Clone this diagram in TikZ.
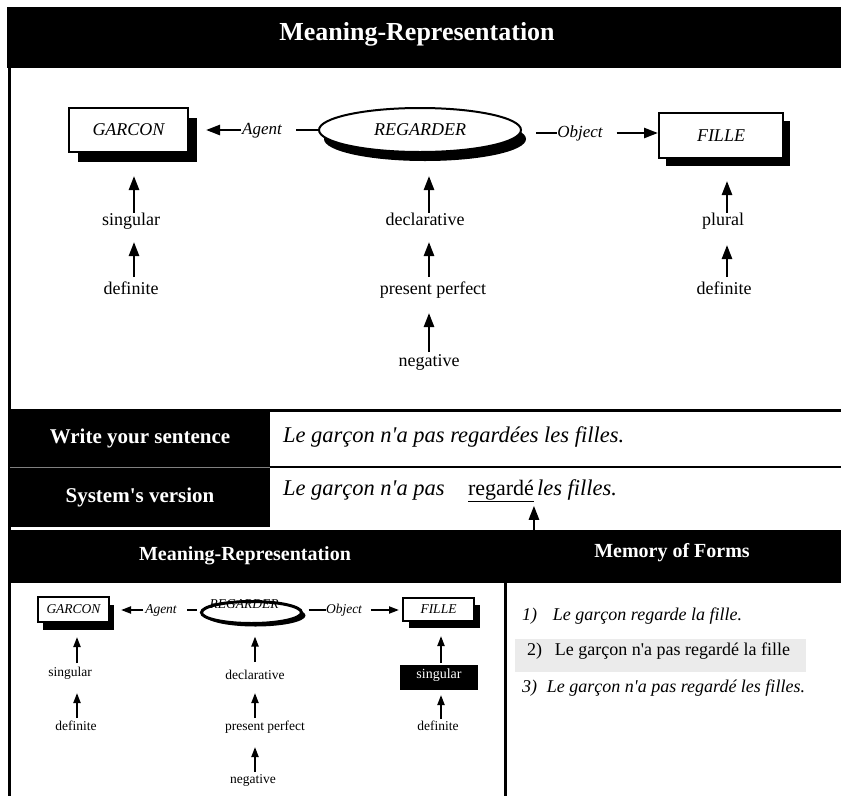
\documentclass[tikz,border=0pt]{standalone}
\usepackage{fontspec}
\setmainfont{Liberation Serif}
\newfontfamily\nolig{Liberation Serif}
\usetikzlibrary{arrows.meta,shapes.geometric,shadows}
\newcommand{\myfs}[1]{\fontsize{#1pt}{#1pt}\selectfont}
\newcommand{\ap}{{\nolig'}}
\begin{document}
\begin{tikzpicture}[x=1pt,y=-1pt,
  every node/.style={inner sep=0pt,outer sep=0pt},
  bshadow/.style 2 args={drop shadow={shadow xshift=#1,shadow yshift=#2,fill=black,opacity=1}},
  namebox/.style={draw=black,line width=2.5pt,fill=white,font=\itshape\myfs{18}},
  nameell/.style={ellipse,draw=black,line width=2pt,fill=white,font=\itshape\myfs{18}},
  rel/.style={font=\itshape\myfs{17},text height=12pt,text depth=4pt},
  feat/.style={font=\myfs{18},text height=13pt,text depth=4pt},
  arr/.style={line width=2.5pt,-{Triangle[length=14pt,width=10pt]}},
  rdash/.style={line width=2.5pt},
  mbox/.style={draw=black,line width=2.5pt,fill=white,font=\itshape\myfs{13.5}},
  mrel/.style={font=\itshape\myfs{13.5},text height=10pt,text depth=3pt},
  mfeat/.style={font=\myfs{13.5},text height=10pt,text depth=3pt},
  marr/.style={line width=2pt,-{Triangle[length=10pt,width=7pt]}},
  cell/.style={fill=black,text=white,font=\bfseries\myfs{21},minimum width=260pt,minimum height=57pt},
  rowtxt/.style={font=\itshape\myfs{22.5}},
  bandtxt/.style={text=white,font=\bfseries\myfs{20}},
  formtxt/.style={font=\itshape\myfs{18}}
]
\useasboundingbox (0,0) rectangle (841,796);

% header
\fill[black] (7,7) rectangle (841,68);
\node[text=white,font=\bfseries\myfs{26},anchor=base] (title) at (417,40) {Meaning-Representation};

% outer left border
\draw[line width=2.5pt] (9.5,68) -- (9.5,796);

% ---------- top diagram ----------
\node[namebox,minimum width=119pt,minimum height=44pt,bshadow={9pt}{-10pt}] (garcon) at (128.5,130) {GARCON};
\node[nameell,minimum width=202pt,minimum height=44pt,bshadow={5pt}{-9pt}] (regarder) at (420,130) {REGARDER};
\node[namebox,minimum width=124pt,minimum height=45pt,bshadow={7pt}{-8pt}] (fille) at (721,135.5) {FILLE};

\node[rel] (agent) at (262,130) {Agent};
\node[rel] (object) at (580,133) {Object};
\draw[arr,shorten >=18pt,shorten <=1pt] (agent.west) -- (agent.west -| garcon.east);
\draw[rdash,shorten <=1pt,shorten >=14pt] (agent.east -| regarder.west) -- (agent.east);
\draw[rdash,shorten <=15pt] (object.west -| regarder.east) -- (object.west);
\draw[arr,shorten <=14pt,shorten >=1pt] (object.east) -- (object.east -| fille.west);

\coordinate (cL) at (134,0);
\coordinate (cC) at (429,0);
\coordinate (cR) at (727,0);

\node[feat] (sing1) at (131,221) {singular};
\node[feat] (def1) at (131,290) {definite};
\node[feat] (decl) at (425,221) {declarative};
\node[feat] (pp) at (433,290) {present perfect};
\node[feat] (neg) at (429,362) {negative};
\node[feat] (plural) at (723,221) {plural};
\node[feat] (def3) at (724,290) {definite};

\draw[arr,shorten >=24pt] (sing1.north -| cL) -- (garcon.south -| cL);
\draw[arr,shorten <=4.5pt,shorten >=12.5pt] (def1.north -| cL) -- (sing1.south -| cL);
\draw[arr,shorten >=24pt] (decl.north -| cC) -- (regarder.south -| cC);
\draw[arr,shorten <=4.5pt,shorten >=12.5pt] (pp.north -| cC) -- (decl.south -| cC);
\draw[arr,shorten <=1.5pt,shorten >=14.5pt] (neg.north -| cC) -- (pp.south -| cC);
\draw[arr,shorten >=23pt] (plural.north -| cR) -- (fille.south -| cR);
\draw[arr,shorten <=4.5pt,shorten >=15.5pt] (def3.north -| cR) -- (plural.south -| cR);

% ---------- rows ----------
\coordinate (redge) at (841,0);
\node[cell,anchor=north west] (wys) at (10,410) {Write your sentence};
\node[cell,minimum height=60pt,anchor=north west] (sysv) at (10,467) {System\ap s version};
\draw[line width=3pt] (wys.north west) -- (wys.north west -| redge);
\draw[line width=2.5pt] (wys.south east) -- (wys.south east -| redge);
\draw[gray,line width=1pt] (wys.south west) -- (wys.south east);

\node[rowtxt,anchor=base west] (sent) at (283,442) {Le garçon n\ap a pas regardées les filles.};
\node[rowtxt,anchor=base west] (sysa) at (283,495) {Le garçon n\ap a pas};
\node[font=\myfs{22},anchor=base west] (regarde) at (468,495) {\underline{regardé}};
\node[rowtxt,anchor=base west] (sysb) at (537,495) {les filles.};

% ---------- bottom band ----------
\node[fill=black,minimum width=831pt,minimum height=53pt,anchor=north west] (bandB) at (10,530) {};
\node[bandtxt,anchor=base] (mrtitle) at (245,560) {Meaning-Representation};
\node[bandtxt,anchor=base] (mftitle) at (672,557) {Memory of Forms};
\draw[arr,shorten >=4pt] (regarde.south east |- bandB.north) -- (regarde.south east);

\coordinate (divx) at (505,796);
\draw[line width=3pt] (bandB.south -| divx) -- (divx);

% ---------- mini diagram ----------
\node[mbox,minimum width=71pt,minimum height=25pt,bshadow={5pt}{-8pt}] (mgarcon) at (73.5,609.5) {GARCON};
\node[ellipse,draw=black,line width=3pt,fill=white,minimum width=100pt,minimum height=22pt,bshadow={4pt}{-3pt}] (mregarder) at (251.5,612.5) {};
\node[mrel] (mregtxt) at (244,605) {REGARDER};
\node[mbox,minimum width=71pt,minimum height=23pt,bshadow={6pt}{-7pt}] (mfille) at (438.5,609.5) {FILLE};
\node[mrel] (magent) at (161,610) {Agent};
\node[mrel] (mobject) at (344,610) {Object};

\draw[marr,shorten <=2pt,shorten >=12pt] (magent.west) -- (magent.west -| mgarcon.east);
\draw[line width=2pt,shorten <=5pt,shorten >=10pt] (magent.east -| mregarder.west) -- (magent.east);
\draw[line width=2pt,shorten <=7pt] (mobject.west -| mregarder.east) -- (mobject.west);
\draw[marr,shorten <=9pt,shorten >=4pt] (mobject.east) -- (mobject.east -| mfille.west);

\coordinate (mL) at (77,0);
\coordinate (mC) at (255,0);
\coordinate (mR) at (441,0);

\node[mfeat] (msing1) at (70,673) {singular};
\node[mfeat] (mdef1) at (76,727) {definite};
\node[mfeat] (mdecl) at (255,676) {declarative};
\node[mfeat] (mpp) at (265,727) {present perfect};
\node[mfeat] (mneg) at (253,780) {negative};
\node[fill=black,text=white,font=\myfs{14},minimum width=78pt,minimum height=25pt,text height=10pt,text depth=8pt] (msing3) at (439,677.5) {singular};
\node[mfeat] (mdef3) at (438,727) {definite};

\draw[marr,shorten <=3.5pt,shorten >=15pt] (msing1.north -| mL) -- (mgarcon.south -| mL);
\draw[marr,shorten <=2.5pt,shorten >=13.5pt] (mdef1.north -| mL) -- (msing1.south -| mL);
\draw[marr,shorten <=7.5pt,shorten >=13pt] (mdecl.north -| mC) -- (mregarder.south -| mC);
\draw[marr,shorten <=2.5pt,shorten >=10.5pt] (mpp.north -| mC) -- (mdecl.south -| mC);
\draw[marr,shorten <=1.5pt,shorten >=13.5pt] (mneg.north -| mC) -- (mpp.south -| mC);
\draw[marr,shorten <=2pt,shorten >=15pt] (msing3.north -| mR) -- (mfille.south -| mR);
\draw[marr,shorten <=1.5pt,shorten >=5pt] (mdef3.north -| mR) -- (msing3.south -| mR);

% ---------- memory of forms ----------
\node[fill=black!8,minimum width=291pt,minimum height=33pt,anchor=north west] (hl) at (515,639) {};
\node[formtxt,anchor=base west] (f1) at (522,620) {1)\hspace{16pt}Le garçon regarde la fille.};
\node[font=\myfs{18},anchor=base west] (f2) at (527,655) {2)\hspace{13pt}Le garçon n\ap a pas regardé la fille};
\node[formtxt,anchor=base west] (f3) at (522,692) {3)\hspace{10pt}Le garçon n\ap a pas regardé les filles.};
\end{tikzpicture}
\end{document}
